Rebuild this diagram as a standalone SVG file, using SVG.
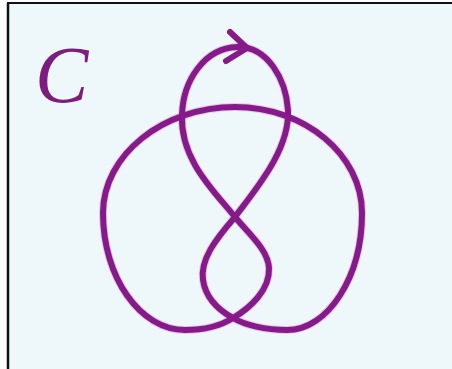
<svg xmlns="http://www.w3.org/2000/svg" width="452" height="369" viewBox="0 0 452 369">
  <defs>
    <style>
      .knot { fill: none; stroke: #871a89; stroke-width: 6; stroke-linecap: round; stroke-linejoin: round; }
      .halo { fill: none; stroke: #d070d8; stroke-opacity: 0.35; stroke-width: 8; stroke-linecap: round; stroke-linejoin: round; }
    </style>
  </defs>
  <rect x="0" y="0" width="452" height="369" fill="#fdfefe"/>
  <rect x="8" y="3" width="444" height="366" fill="#eef8fb"/>
  <line x1="8" y1="3" x2="8" y2="369" stroke="#111" stroke-width="2.5"/>
  <line x1="7" y1="3" x2="452" y2="3" stroke="#111" stroke-width="2"/>
  <text x="35" y="102" font-family="Liberation Serif, serif" font-style="italic" font-size="80" fill="#7d1c80">C</text>
  <g id="knot">
    <path class="halo" d="M 237 47 C 268 46, 286 80, 288 110 C 290 150, 255 190, 235 217 C 215 240, 200 260, 203 280 C 206 300, 222 312, 233 318 C 245 325, 265 330, 287 330 C 328 330, 362 277, 362 213 C 362 155, 305 107, 235 107 C 163 107, 103 155, 103 213 C 103 277, 140 330, 185 330 C 205 330, 222 325, 233 318 C 250 308, 270 290, 269 268 C 268 250, 250 235, 235 217 C 215 192, 180 160, 182 115 C 183 80, 205 48, 237 47 Z"/>
    <path class="knot" d="M 237 47 C 268 46, 286 80, 288 110 C 290 150, 255 190, 235 217 C 215 240, 200 260, 203 280 C 206 300, 222 312, 233 318 C 245 325, 265 330, 287 330 C 328 330, 362 277, 362 213 C 362 155, 305 107, 235 107 C 163 107, 103 155, 103 213 C 103 277, 140 330, 185 330 C 205 330, 222 325, 233 318 C 250 308, 270 290, 269 268 C 268 250, 250 235, 235 217 C 215 192, 180 160, 182 115 C 183 80, 205 48, 237 47 Z"/>
    <path class="knot" d="M 230 32 L 247 48 L 226 61"/>
  </g>
</svg>
